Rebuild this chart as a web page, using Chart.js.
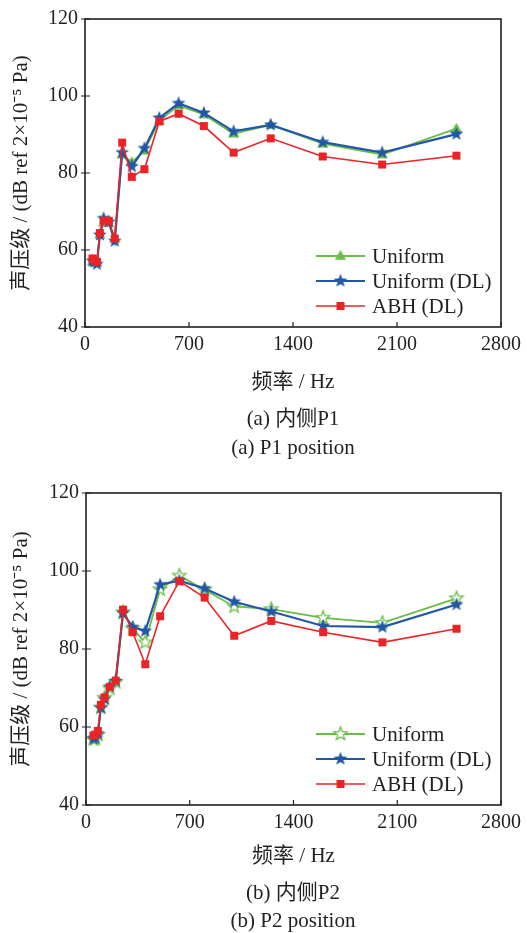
<!DOCTYPE html>
<html lang="zh">
<head>
<meta charset="utf-8">
<title>声压级 — P1 / P2</title>
<script src="https://cdn.jsdelivr.net/npm/chart.js@4.4.1/dist/chart.umd.min.js"></script>
<style>
  html, body { margin: 0; padding: 0; background: #fff; }
  body {
    position: relative; width: 527px; height: 933px; overflow: hidden;
    font-family: "Liberation Serif", "Noto Sans CJK SC", serif; color: #231f20;
  }
  canvas { position: absolute; left: 0; }
  #chartP1 { top: 0; }
  #chartP2 { top: 466px; }
  .caption {
    position: absolute; left: 143px; width: 300px; text-align: center;
    font-size: 21px; line-height: 26px; white-space: nowrap;
  }
</style>
</head>
<body>
<canvas id="chartP1" width="527" height="466"></canvas>
<div class="caption" style="top:405px">(a) 内侧P1</div>
<div class="caption" style="top:434px">(a) P1 position</div>

<canvas id="chartP2" width="527" height="467"></canvas>
<div class="caption" style="top:879px">(b) 内侧P2</div>
<div class="caption" style="top:907px">(b) P2 position</div>

<script>
// 1/3-octave band centre frequencies (Hz)
const freqHz = [50, 63, 80, 100, 125, 160, 200, 250, 315, 400, 500, 630, 800, 1000, 1250, 1600, 2000, 2500];

// sound pressure level at P1, dB ref 2e-5 Pa
const p1Uniform   = [57.0, 56.8, 56.6, 64.0, 67.0, 67.0, 62.8, 84.8, 82.8, 85.8, 93.6, 97.5, 95.2, 90.2, 92.5, 87.6, 84.8, 91.5];
const p1UniformDL = [57.2, 56.9, 56.3, 63.9, 68.2, 67.3, 62.3, 85.3, 81.7, 86.4, 94.3, 98.1, 95.6, 90.8, 92.5, 88.0, 85.3, 90.1];
const p1AbhDL     = [57.8, 57.5, 56.9, 64.4, 67.6, 67.6, 63.0, 87.9, 79.0, 81.0, 93.4, 95.4, 92.2, 85.3, 89.0, 84.3, 82.2, 84.5];

// sound pressure level at P2
const p2Uniform   = [56.8, 57.0, 58.0, 65.0, 67.5, 69.9, 71.5, 89.4, 85.2, 81.7, 95.3, 98.8, 95.2, 90.9, 90.2, 88.0, 86.7, 93.0];
const p2UniformDL = [57.0, 57.2, 58.3, 64.9, 67.1, 70.3, 71.8, 89.2, 85.6, 84.6, 96.5, 97.5, 95.5, 92.1, 89.6, 85.9, 85.6, 91.4];
const p2AbhDL     = [57.8, 58.0, 59.0, 65.7, 67.6, 70.3, 71.9, 90.1, 84.3, 76.1, 88.4, 97.4, 93.2, 83.4, 87.2, 84.3, 81.7, 85.2];

const seriesNames = ['Uniform', 'Uniform (DL)', 'ABH (DL)'];
const xTicks = [0, 700, 1400, 2100, 2800];
const yTicks = [40, 60, 80, 100, 120];
const xTitle = '频率 / Hz';
const yTitle = '声压级 / (dB ref 2×10⁻⁵ Pa)';

const GREEN = '#6abd45';
const BLUE = '#2157a6';
const RED = '#ec2326';
const INK = '#231f20';
const FONT_FAMILY = '"Liberation Serif", "Noto Sans CJK SC", serif';

// --- marker images (Chart.js draws canvas pointStyles centred on the point) ---
function markerCanvas(draw) {
    const c = document.createElement('canvas');
    c.width = c.height = 18;
    const g = c.getContext('2d');
    g.translate(9, 9);
    draw(g);
    return c;
}

function starPath(g, outer, inner) {
    g.beginPath();
    for (let i = 0; i < 10; i++) {
        const r = i % 2 ? inner : outer;
        const a = -Math.PI / 2 + i * Math.PI / 5;
        if (i) g.lineTo(r * Math.cos(a), r * Math.sin(a));
        else g.moveTo(r * Math.cos(a), r * Math.sin(a));
    }
    g.closePath();
}

const triangleMark = markerCanvas(g => {
    g.beginPath();
    g.moveTo(0, -6);
    g.lineTo(5.6, 3.8);
    g.lineTo(-5.6, 3.8);
    g.closePath();
    g.fillStyle = GREEN;
    g.fill();
});
const hollowStarMark = markerCanvas(g => {
    starPath(g, 7, 3);
    g.fillStyle = '#fff';
    g.fill();
    g.strokeStyle = GREEN;
    g.lineWidth = 1.3;
    g.stroke();
});
const starMark = markerCanvas(g => {
    starPath(g, 7.2, 3);
    g.fillStyle = BLUE;
    g.fill();
});
const squareMark = markerCanvas(g => {
    g.fillStyle = RED;
    g.fillRect(-4, -4, 8, 8);
});

function toPoints(values) {
    return freqHz.map((f, i) => ({ x: f, y: values[i] }));
}

// plot frame, inward/crossing tick marks and the line+marker legend
const frameAndLegend = {
    id: 'frameAndLegend',
    afterDatasetsDraw(chart) {
        const { ctx, chartArea: a, scales: { x, y } } = chart;
        ctx.save();
        ctx.strokeStyle = INK;
        ctx.lineWidth = 1.6;
        ctx.strokeRect(a.left, a.top, a.right - a.left, a.bottom - a.top);

        ctx.lineWidth = 1.2;
        ctx.beginPath();
        y.ticks.forEach(t => {
            const py = y.getPixelForValue(t.value);
            ctx.moveTo(a.left - 4, py);
            ctx.lineTo(a.left + 5, py);
        });
        x.ticks.forEach(t => {
            const px = x.getPixelForValue(t.value);
            ctx.moveTo(px, a.bottom);
            ctx.lineTo(px, a.bottom - 5);
        });
        ctx.stroke();

        ctx.font = '21px ' + FONT_FAMILY;
        ctx.textBaseline = 'middle';
        ctx.textAlign = 'left';
        chart.data.datasets.forEach((ds, i) => {
            const ly = a.bottom - 71 + i * 25;
            const lx = a.right - 185;
            ctx.strokeStyle = ds.borderColor;
            ctx.lineWidth = ds.borderWidth;
            ctx.beginPath();
            ctx.moveTo(lx, ly);
            ctx.lineTo(lx + 49, ly);
            ctx.stroke();
            ctx.drawImage(ds.pointStyle, lx + 24.5 - 9, ly - 9);
            ctx.fillStyle = INK;
            ctx.fillText(ds.label, lx + 56, ly + 1);
        });
        ctx.restore();
    }
};

function makeChart(id, series, uniformMark, box) {
    const tickFont = { family: FONT_FAMILY, size: 20 };
    const titleFont = { family: FONT_FAMILY, size: 21 };
    return new Chart(document.getElementById(id), {
        type: 'line',
        data: {
            datasets: [
                { label: seriesNames[0], data: toPoints(series[0]), borderColor: GREEN, borderWidth: 1.8, pointStyle: uniformMark, order: 3 },
                { label: seriesNames[1], data: toPoints(series[1]), borderColor: BLUE, borderWidth: 2.2, pointStyle: starMark, order: 2 },
                { label: seriesNames[2], data: toPoints(series[2]), borderColor: RED, borderWidth: 1.6, pointStyle: squareMark, order: 1 }
            ]
        },
        options: {
            responsive: false,
            animation: false,
            devicePixelRatio: 1,
            layout: { padding: { left: 0, right: 26, top: box.top, bottom: box.bottom } },
            elements: {
                line: { tension: 0, fill: false },
                point: { radius: 6, hoverRadius: 6 }
            },
            plugins: { legend: { display: false }, tooltip: { enabled: false } },
            scales: {
                x: {
                    type: 'linear',
                    min: 0,
                    max: 2800,
                    afterFit: s => { s.height = 72; },
                    afterBuildTicks: s => { s.ticks = xTicks.map(v => ({ value: v })); },
                    ticks: { font: tickFont, color: INK, padding: 6, maxRotation: 0, callback: v => String(v) },
                    grid: { display: false, drawTicks: false },
                    border: { display: false },
                    title: { display: true, text: xTitle, font: titleFont, color: INK, padding: { top: 0, bottom: box.xTitlePad } }
                },
                y: {
                    min: 40,
                    max: 120,
                    afterFit: s => { s.width = box.left; },
                    afterBuildTicks: s => { s.ticks = yTicks.map(v => ({ value: v })); },
                    ticks: { font: tickFont, color: INK, padding: 7, callback: v => String(v) },
                    grid: { display: false, drawTicks: false },
                    border: { display: false },
                    title: { display: true, text: yTitle, font: titleFont, color: INK, padding: { top: 9, bottom: 0 } }
                }
            }
        },
        plugins: [frameAndLegend]
    });
}

makeChart('chartP1', [p1Uniform, p1UniformDL, p1AbhDL], triangleMark,
    { left: 85, top: 15, bottom: 67, xTitlePad: 4 });
makeChart('chartP2', [p2Uniform, p2UniformDL, p2AbhDL], hollowStarMark,
    { left: 86, top: 27, bottom: 56, xTitlePad: 8 });
</script>
</body>
</html>
